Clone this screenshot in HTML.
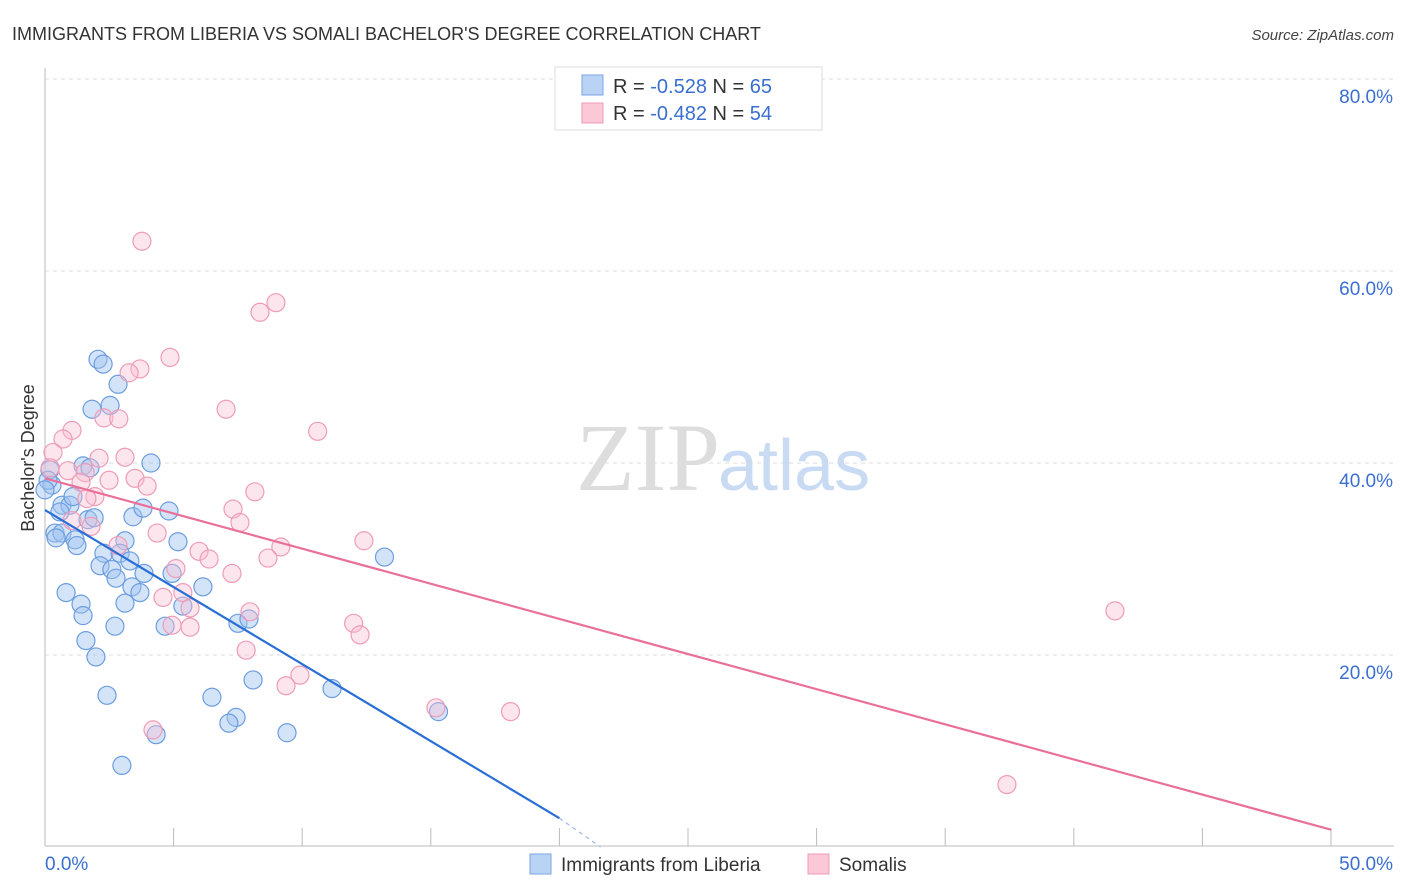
<!DOCTYPE html>
<html><head><meta charset="utf-8"><style>
body{margin:0;background:#fff;font-family:"Liberation Sans",sans-serif;}
svg{display:block}
</style></head><body>
<svg id="chart" width="1406" height="892" xmlns="http://www.w3.org/2000/svg" font-family="Liberation Sans, sans-serif">
<text x="12" y="40" font-size="18" fill="#333">IMMIGRANTS FROM LIBERIA VS SOMALI BACHELOR'S DEGREE CORRELATION CHART</text>
<text x="1394" y="40" font-size="15" fill="#444" text-anchor="end" font-style="italic">Source: ZipAtlas.com</text>
<g id="grid"></g>
<text x="720" y="490" font-size="96" fill="#ddd" text-anchor="end" font-family="Liberation Serif, serif">ZIP</text>
<text x="718" y="490" font-size="72" fill="#c9dbf3">atlas</text>
<g id="marks"></g>
<text transform="translate(34,458) rotate(-90)" font-size="18" fill="#333" text-anchor="middle">Bachelor's Degree</text>
<g>
<rect x="555" y="67" width="267" height="63" fill="#fff" stroke="#ddd"/>
<rect x="582" y="75" width="21" height="20" fill="#b9d3f5" stroke="#7aa6e6"/>
<text x="613" y="93" font-size="20" fill="#333">R = <tspan fill="#3a6fd0">-0.528</tspan>    N = <tspan fill="#3a6fd0">65</tspan></text>
<rect x="582" y="103" width="21" height="20" fill="#fbc8d8" stroke="#ef9ab6"/>
<text x="613" y="120" font-size="20" fill="#333">R = <tspan fill="#3a6fd0">-0.482</tspan>    N = <tspan fill="#3a6fd0">54</tspan></text>
</g>
<g>
<rect x="530" y="854" width="21" height="20" fill="#b9d3f5" stroke="#7aa6e6"/>
<text x="561" y="871" font-size="19" fill="#333">Immigrants from Liberia</text>
<rect x="808" y="854" width="21" height="20" fill="#fbc8d8" stroke="#ef9ab6"/>
<text x="839" y="871" font-size="19" fill="#333">Somalis</text>
</g>
</svg>
<script>
const blueX=[2.06,2.26,2.84,1.83,2.53,4.12,1.48,1.75,0.19,0.27,0.66,0.97,1.09,0.58,3.42,4.82,1.67,1.91,0.39,0.66,1.17,1.24,3.11,5.17,2.29,2.92,13.2,3.30,2.14,2.60,2.76,3.85,4.94,3.38,3.69,6.14,0.82,3.11,1.40,5.36,1.48,4.67,2.72,7.50,7.93,1.59,1.98,8.09,11.16,2.41,6.49,7.43,7.15,15.3,4.32,9.41,2.99,0.12,0.0,3.81,0.43];
const blueY=[50.8,50.3,48.2,45.6,46.0,40.0,39.7,39.5,39.3,37.7,35.6,35.6,36.5,34.9,34.4,35.0,34.1,34.3,32.7,32.7,32.0,31.4,31.9,31.8,30.6,30.6,30.2,29.8,29.3,28.9,28.0,28.5,28.5,27.1,26.5,27.1,26.5,25.4,25.3,25.1,24.1,23.0,23.0,23.3,23.75,21.5,19.8,17.4,16.5,15.8,15.6,13.5,12.9,14.1,11.7,11.9,8.5,38.2,37.2,35.3,32.2];
const pinkX=[3.77,8.98,8.36,4.86,3.69,3.27,7.04,2.29,2.87,10.6,1.05,0.70,0.31,3.11,2.10,0.89,1.56,2.49,3.50,3.97,1.40,1.94,1.63,8.16,7.31,7.58,1.79,4.36,12.4,2.84,5.99,9.17,6.38,8.67,5.09,7.27,4.59,5.36,7.97,41.6,5.64,12.0,12.25,4.94,5.64,7.82,9.91,9.37,15.2,18.1,4.20,37.4,1.05,0.2];
const pinkY=[63.1,56.7,55.7,51.0,49.8,49.4,45.6,44.7,44.6,43.3,43.4,42.5,41.1,40.6,40.5,39.2,39.0,38.2,38.4,37.6,38.0,36.5,36.3,37.0,35.2,33.8,33.4,32.7,31.9,31.4,30.8,31.25,30.0,30.1,29.0,28.5,26.0,26.5,24.5,24.6,24.9,23.3,22.1,23.1,22.9,20.5,17.9,16.8,14.5,14.1,12.2,6.5,34.0,39.5];
const blueTrend=[0,35.1,20.0,3.0,21.6,0];
const pinkTrend=[0,38.4,50,1.8];
const yTicks=[20,40,60,80];
const xTickVals=[0,5,10,15,20,25,30,35,40,45,50];
const NS='http://www.w3.org/2000/svg';
const sx=v=>45+v*25.72;
const sy=v=>847-v*9.6;
function mk(tag,attrs,parent){const e=document.createElementNS(NS,tag);for(const k in attrs)e.setAttribute(k,attrs[k]);parent.appendChild(e);return e;}
const grid=document.getElementById('grid'),marks=document.getElementById('marks'),svg=document.getElementById('chart');
yTicks.forEach(t=>{
 const l=mk('line',{x1:45,x2:1394,y1:sy(t),y2:sy(t),stroke:'#ddd','stroke-dasharray':'4,4'},grid);
 
 
 const tx=mk('text',{x:1393,y:sy(t)+24,'font-size':19,fill:'#3a6fd0','text-anchor':'end'},svg);
 tx.textContent=t.toFixed(1)+'%';
 
 
});
const ax=mk('line',{x1:45,x2:45,y1:68,y2:846,stroke:'#bbb'},grid);


const bx=mk('line',{x1:45,x2:1394,y1:846,y2:846,stroke:'#bbb'},grid);


xTickVals.forEach(t=>{
 const l=mk('line',{x1:sx(t),x2:sx(t),y1:828,y2:846,stroke:'#bbb'},grid);
 
 
});
const x0=mk('text',{x:45,y:870,'font-size':19,fill:'#3a6fd0'},svg);x0.textContent='0.0%';


const x1=mk('text',{x:1393,y:870,'font-size':19,fill:'#3a6fd0','text-anchor':'end'},svg);x1.textContent='50.0%';


blueX.forEach((v,i)=>{
 const c=mk('circle',{cx:sx(v),cy:sy(blueY[i]),r:9,fill:'rgba(160,195,240,0.45)',stroke:'#6c9de0','stroke-width':1.2},marks);
 
 
});
pinkX.forEach((v,i)=>{
 const c=mk('circle',{cx:sx(v),cy:sy(pinkY[i]),r:9,fill:'rgba(250,190,210,0.4)',stroke:'#ee9cb8','stroke-width':1.2},marks);
 
 
});
const bl=mk('line',{x1:sx(blueTrend[0]),y1:sy(blueTrend[1]),x2:sx(blueTrend[2]),y2:sy(blueTrend[3]),stroke:'#2a6fd6','stroke-width':2.2},marks);


const bd=mk('line',{x1:sx(blueTrend[2]),y1:sy(blueTrend[3]),x2:sx(blueTrend[4]),y2:sy(blueTrend[5]),stroke:'#9bb8e6','stroke-width':1.2,'stroke-dasharray':'4,4'},marks);


const pl=mk('line',{x1:sx(pinkTrend[0]),y1:sy(pinkTrend[1]),x2:sx(pinkTrend[2]),y2:sy(pinkTrend[3]),stroke:'#e8709a','stroke-width':2.2},marks);


</script>
</body></html>
